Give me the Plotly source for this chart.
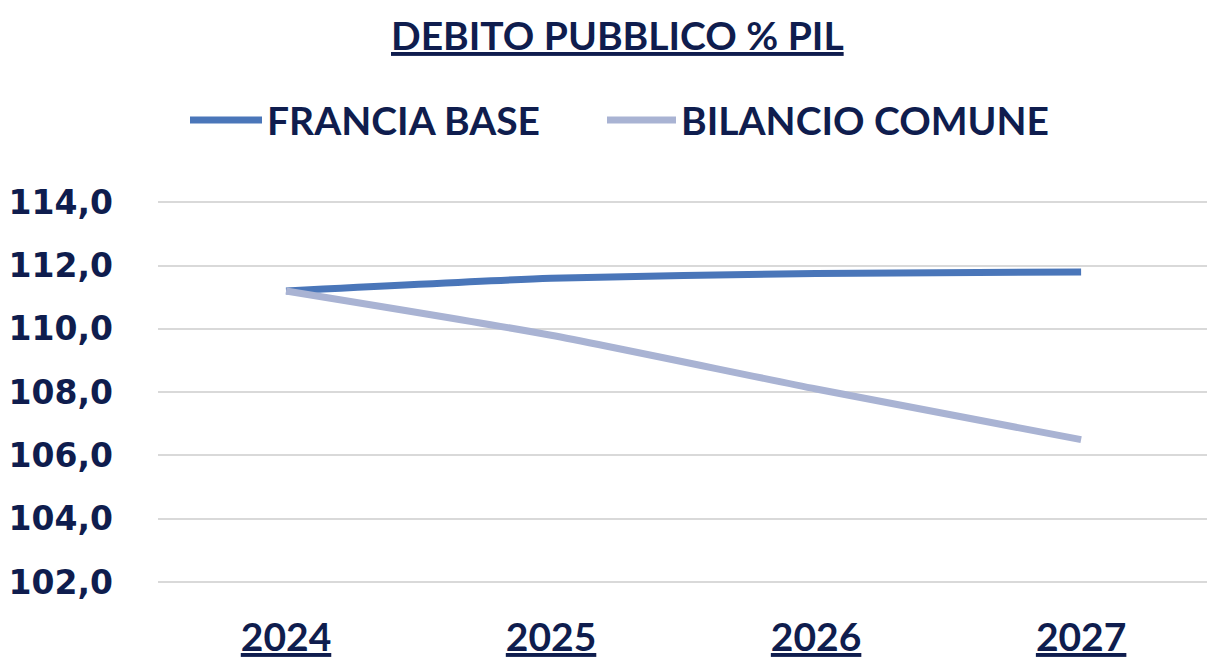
import plotly.graph_objects as go

# Chart data
years = ["2024", "2025", "2026", "2027"]
francia_base = [111.2, 111.6, 111.75, 111.8]
bilancio_comune = [111.2, 109.8, 108.1, 106.5]
series_names = ["FRANCIA BASE", "BILANCIO COMUNE"]
y_ticks = [102, 104, 106, 108, 110, 112, 114]

# Styling
W, H = 1207, 663
ML, MR, MT, MB = 158, 0, 196, 43
NAVY = "#0f1d4e"
COL_BASE = "#4a76b9"
COL_BIL = "#a9b3d3"
TEXT_FONT = "Lato"
NUM_FONT = "DejaVu Sans"

plot_w = W - ML - MR
plot_h = H - MT - MB


def px_x(px):
    return (px - ML) / plot_w


def px_y(py):
    return (H - MB - py) / plot_h


fig = go.Figure()
fig.add_trace(go.Scatter(x=years, y=francia_base, name=series_names[0],
                         mode="lines", line=dict(color=COL_BASE, width=7, shape="spline", smoothing=0.6)))
fig.add_trace(go.Scatter(x=years, y=bilancio_comune, name=series_names[1],
                         mode="lines", line=dict(color=COL_BIL, width=7, shape="spline", smoothing=0.6)))

# Title
fig.add_annotation(text="<b><u>DEBITO PUBBLICO % PIL</u></b>", xref="paper", yref="paper",
                   x=px_x(617), y=px_y(35), xanchor="center", yanchor="middle", showarrow=False,
                   font=dict(family=TEXT_FONT, size=39, color=NAVY))

# Legend drawn as line samples with labels
legend_items = [(190, 262, 265, COL_BASE, series_names[0]),
                (607, 676, 679, COL_BIL, series_names[1])]
for x0, x1, tx, col, label in legend_items:
    fig.add_shape(type="line", xref="paper", yref="paper",
                  x0=px_x(x0), x1=px_x(x1), y0=px_y(120), y1=px_y(120),
                  line=dict(color=col, width=7))
    fig.add_annotation(text="<b>" + label + "</b>", xref="paper", yref="paper",
                       x=px_x(tx), y=px_y(120), xanchor="left", yanchor="middle", showarrow=False,
                       font=dict(family=TEXT_FONT, size=39, color=NAVY))

fig.update_layout(
    width=W, height=H,
    margin=dict(l=ML, r=MR, t=MT, b=MB, autoexpand=False),
    paper_bgcolor="white", plot_bgcolor="white",
    showlegend=False,
    separators=",.",
    xaxis=dict(type="category", range=[-0.483, 3.475], showgrid=False, zeroline=False,
               showline=False, ticks="", automargin=False, ticklabelstandoff=-9,
               tickvals=years, ticktext=["<b><u>" + y + "</u></b>" for y in years],
               tickfont=dict(family=TEXT_FONT, size=39, color=NAVY)),
    yaxis=dict(range=[100.8, 114.2], tickvals=y_ticks, tickformat=".1f",
               showgrid=True, gridcolor="#d9d9d9", gridwidth=2, zeroline=False,
               showline=False, ticks="", ticklabelstandoff=44, automargin=False,
               tickfont=dict(family=NUM_FONT, size=33, color=NAVY, weight="bold")),
)

fig.write_html("out.html")
